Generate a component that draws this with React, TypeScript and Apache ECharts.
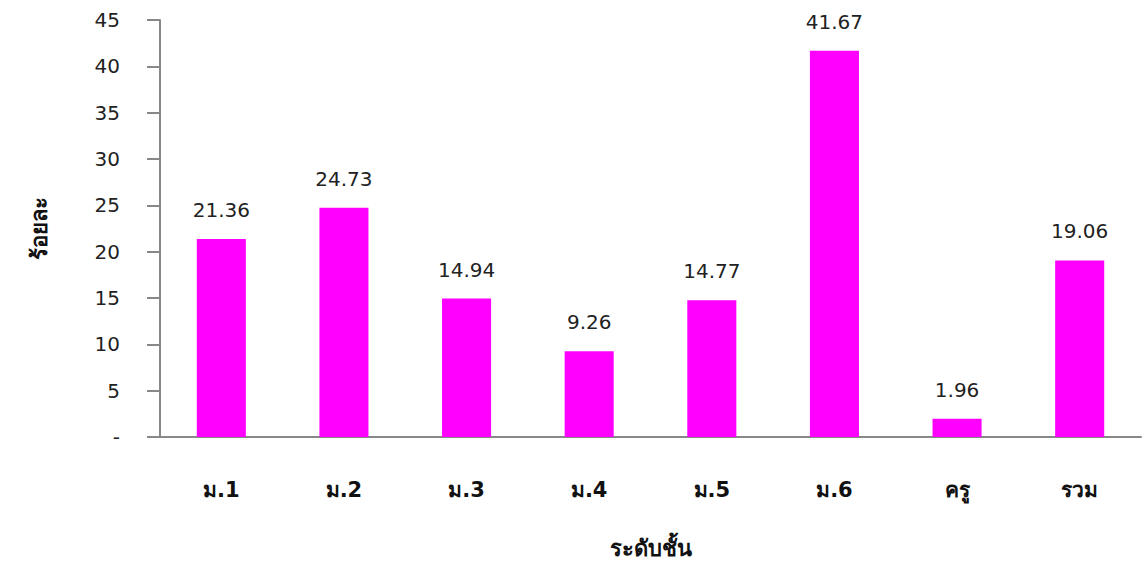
import React, { useEffect, useRef } from "react";
import * as echarts from "echarts";

const categories = ["ม.1", "ม.2", "ม.3", "ม.4", "ม.5", "ม.6", "ครู", "รวม"];
const values = [21.36, 24.73, 14.94, 9.26, 14.77, 41.67, 1.96, 19.06];
const yTicks = { min: 0, max: 45, interval: 5 };

const FONT = "Tahoma, 'DejaVu Sans', Verdana, sans-serif";

export default function App() {
  const ref = useRef<HTMLDivElement>(null);
  useEffect(() => {
    if (!ref.current) return;
    const chart = echarts.init(ref.current, null, { renderer: "svg" });
    chart.setOption({
      animation: false,
      backgroundColor: "#ffffff",
      grid: { left: 160, right: 4, top: 20, bottom: 129, outerBoundsMode: "none", containLabel: false },
      xAxis: {
        type: "category",
        data: categories,
        name: "ระดับชั้น",
        nameLocation: "middle",
        nameGap: 100,
        nameTextStyle: { fontFamily: FONT, fontSize: 22, fontWeight: "bold", color: "#111" },
        axisLine: { lineStyle: { color: "#888", width: 2 } },
        axisTick: { show: false },
        axisLabel: { margin: 42, fontFamily: FONT, fontSize: 21, fontWeight: "bold", color: "#111" },
      },
      yAxis: {
        type: "value",
        min: yTicks.min,
        max: yTicks.max,
        interval: yTicks.interval,
        name: "ร้อยละ",
        nameLocation: "middle",
        nameGap: 110,
        nameRotate: 90,
        nameTextStyle: { fontFamily: FONT, fontSize: 22, fontWeight: "bold", color: "#111" },
        axisLine: { show: true, lineStyle: { color: "#888", width: 2 } },
        axisTick: { show: true, length: 13, lineStyle: { color: "#888", width: 2 } },
        splitLine: { show: false },
        axisLabel: {
          margin: 40,
          fontFamily: FONT,
          fontSize: 20,
          color: "#222",
          formatter: (v: number) => (v === 0 ? "-" : String(v)),
        },
      },
      series: [
        {
          type: "bar",
          data: values,
          barWidth: "40%",
          itemStyle: { color: "#ff00ff" },
          label: {
            show: true,
            position: "top",
            distance: 19,
            fontFamily: FONT,
            fontSize: 20,
            color: "#222",
            formatter: (p: any) => p.value.toFixed(2),
          },
        },
      ],
    });
    return () => chart.dispose();
  }, []);
  return (
    <div
      ref={ref}
      style={{ position: "fixed", left: 0, top: 0, width: 1145, height: 566 }}
    />
  );
}
